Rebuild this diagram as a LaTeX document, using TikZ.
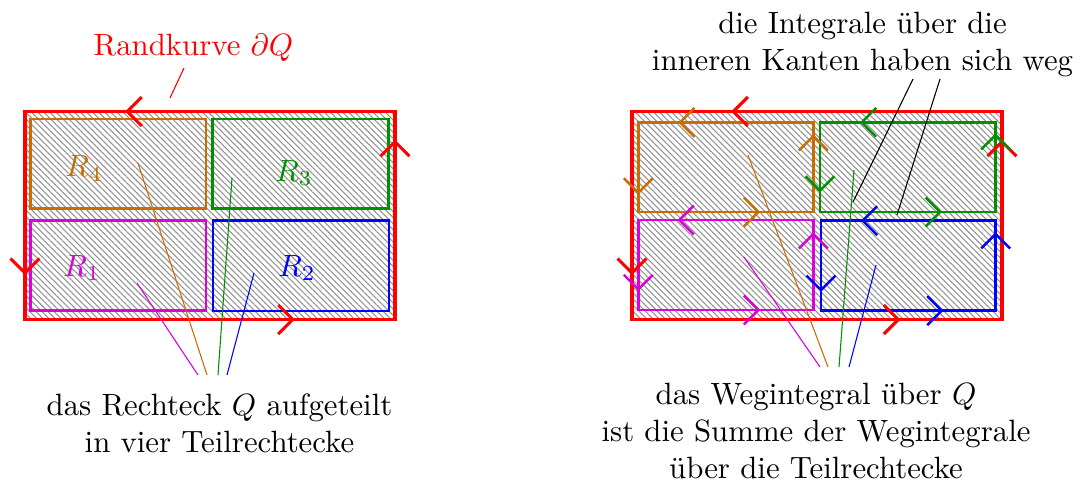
\documentclass[tikz,border=0pt]{standalone}
\usetikzlibrary{patterns.meta}
\definecolor{corange}{RGB}{204,108,0}
\definecolor{cgreen}{RGB}{0,145,0}
\definecolor{cmagenta}{RGB}{220,0,220}
\tikzset{
  hatch/.style={pattern={Lines[angle=-45,distance=1.4pt,line width=0.35pt]}, pattern color=gray!85},
  outerbox/.style={draw=red, line width=1pt},
  innerbox/.style={line width=0.8pt},
  pinline/.style={line width=0.35pt},
  lbl/.style={inner sep=0pt, align=center},
  redchev/.style={red, line width=1pt},
  inchev/.style={line width=0.8pt},
  chev/.pic={\draw (-4.7pt,4.7pt) -- (0pt,0pt) -- (-4.7pt,-4.7pt);}
}
\begin{document}
\begin{tikzpicture}[x=0.3247pt,y=-0.3247pt]
\useasboundingbox (0,0) rectangle (1080,483);

% ---------- left diagram ----------
\draw[outerbox, hatch] (25,111.5) rectangle (395,319.5);
\draw[innerbox, corange]  (30.7,119)   rectangle (206,208.7);
\draw[innerbox, cgreen]   (212.7,119)  rectangle (388.3,208.7);
\draw[innerbox, cmagenta] (30.7,220.7) rectangle (206,310.7);
\draw[innerbox, blue]     (213,220.7)  rectangle (389,311);

\pic[redchev, rotate=180] at (127.3,111.5) {chev};
\pic[redchev, rotate=90]  at (395,141.7)   {chev};
\pic[redchev]             at (292.7,319.5) {chev};
\pic[redchev, rotate=-90] at (25,273)      {chev};

\node[lbl, text=corange]  (r4) at (84,168.5) {$R_4$};
\node[lbl, text=cgreen]   (r3) at (294,173)  {$R_3$};
\node[lbl, text=cmagenta] (r1) at (82,268)   {$R_1$};
\node[lbl, text=blue]     (r2) at (297,268)  {$R_2$};

\node[lbl, text=red, anchor=base] (rand) at (193.4,55.7) {Randkurve $\partial Q$};
\node[lbl, anchor=north] (tl) at (219.5,393) {das Rechteck $Q$ aufgeteilt\\in vier Teilrechtecke};

\coordinate (ra) at (184,68);  \coordinate (rb) at (170,98);
\coordinate (lm1) at (137,283); \coordinate (lm2) at (198,375);
\coordinate (lo1) at (138,163); \coordinate (lo2) at (207,375);
\coordinate (lg1) at (232,178); \coordinate (lg2) at (218,375);
\coordinate (lb1) at (254,273); \coordinate (lb2) at (227,375);
\draw[pinline, red] (ra) -- (rb);
\draw[pinline, cmagenta] (lm1) -- (lm2);
\draw[pinline, corange] (lo1) -- (lo2);
\draw[pinline, cgreen] (lg1) -- (lg2);
\draw[pinline, blue] (lb1) -- (lb2);

% ---------- right diagram ----------
\draw[outerbox, hatch] (632,111.5) rectangle (1002,319.5);
\draw[innerbox, corange]  (638.3,122.3) rectangle (813.3,212);
\draw[innerbox, cgreen]   (820,122.3)   rectangle (995.7,212);
\draw[innerbox, cmagenta] (638.3,220)   rectangle (813.3,310);
\draw[innerbox, blue]     (821,220.7)   rectangle (995.7,310.7);

\pic[redchev, rotate=180] at (733.3,111.5) {chev};
\pic[redchev, rotate=90]  at (1002,141.7)  {chev};
\pic[redchev]             at (898.3,319.5) {chev};
\pic[redchev, rotate=-90] at (632,273)     {chev};

\pic[inchev, corange, rotate=180] at (680,122.3)   {chev};
\pic[inchev, corange, rotate=90]  at (813.3,136)   {chev};
\pic[inchev, corange, rotate=-90] at (638.3,192.7) {chev};
\pic[inchev, corange]             at (758.3,212)   {chev};

\pic[inchev, cgreen, rotate=180] at (861.7,122.3) {chev};
\pic[inchev, cgreen, rotate=90]  at (995.7,135)   {chev};
\pic[inchev, cgreen, rotate=-90] at (820,190.7)   {chev};
\pic[inchev, cgreen]             at (940,212)     {chev};

\pic[inchev, cmagenta, rotate=180] at (679.3,220)   {chev};
\pic[inchev, cmagenta, rotate=90]  at (813.3,234)   {chev};
\pic[inchev, cmagenta, rotate=-90] at (638.3,289.3) {chev};
\pic[inchev, cmagenta]             at (758.3,310)   {chev};

\pic[inchev, blue, rotate=180] at (862.7,220.7) {chev};
\pic[inchev, blue, rotate=90]  at (995.7,234)   {chev};
\pic[inchev, blue, rotate=-90] at (821,290)     {chev};
\pic[inchev, blue]             at (941.7,310.7) {chev};

\node[lbl, anchor=north] (tr) at (862.5,12) {die Integrale über die\\inneren Kanten haben sich weg};
\node[lbl, anchor=north] (br) at (816,382.5) {das Wegintegral über $Q$\\ist die Summe der Wegintegrale\\über die Teilrechtecke};

\coordinate (rm1) at (744,257); \coordinate (rm2) at (820,367);
\coordinate (ro1) at (748,155); \coordinate (ro2) at (828,367);
\coordinate (rg1) at (854,170); \coordinate (rg2) at (839,367);
\coordinate (rb1) at (876,265); \coordinate (rb2) at (849,367);
\coordinate (k1a) at (913,79);  \coordinate (k1b) at (853,202);
\coordinate (k2a) at (940,79);  \coordinate (k2b) at (897,215);
\draw[pinline, cmagenta] (rm1) -- (rm2);
\draw[pinline, corange] (ro1) -- (ro2);
\draw[pinline, cgreen] (rg1) -- (rg2);
\draw[pinline, blue] (rb1) -- (rb2);
\draw[pinline] (k1a) -- (k1b);
\draw[pinline] (k2a) -- (k2b);
\end{tikzpicture}
\end{document}
